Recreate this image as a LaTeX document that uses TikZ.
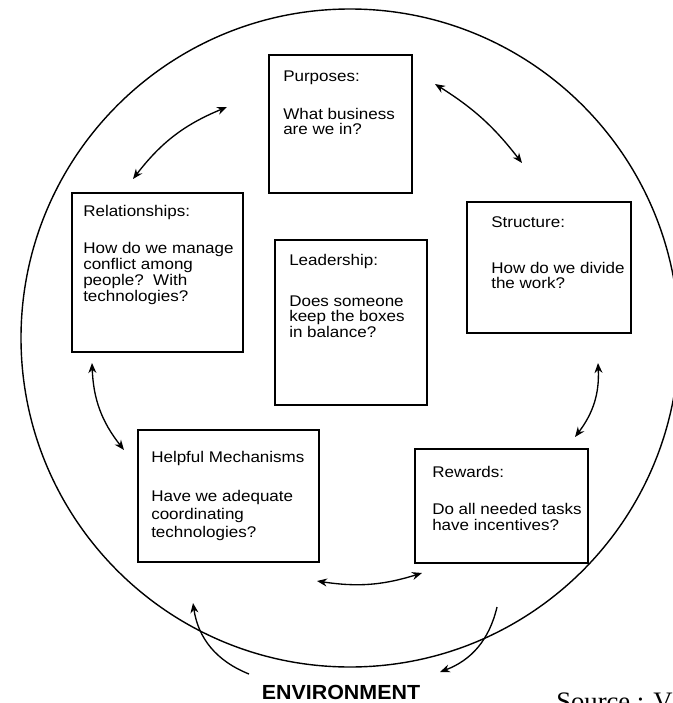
\documentclass[tikz,border=0pt]{standalone}
\usepackage{fontspec}
\setmainfont{Liberation Sans}
\newfontfamily\boxfont{Liberation Sans}[FakeStretch=1.1]
\newfontfamily\envfont{Liberation Sans}[FakeStretch=1.05]
\newfontfamily\srcfont{Liberation Serif}
\usetikzlibrary{arrows.meta,fit}

\begin{document}
\begin{tikzpicture}[x=0.75pt,y=-0.75pt,
  >={Stealth[length=7.5pt,width=6pt]},
  box/.style={draw, line width=0.9pt, inner sep=0pt},
  head/.style={anchor=base west, inner sep=0pt,
    font=\boxfont\fontsize{11.6pt}{12pt}\selectfont},
  body/.style={anchor=base west, inner sep=0pt,
    font=\boxfont\fontsize{11.6pt}{#1}\selectfont},
  link/.style={<->, line width=1pt},
  envlink/.style={->, line width=1pt}]
\useasboundingbox (0,0) rectangle (672,703);

% environment boundary
\node[circle, draw, line width=1.05pt, minimum size=493.5pt, inner sep=0pt] (env) at (350,338) {};

% the six boxes
\node[box, fit={(269,55) (412,193)}] (purp) {};
\node[head] (purpH) at (283,81) {Purposes:};
\node[body=11.25pt] (purpB) at (283,119)
  {\begin{tabular}[t]{@{}l@{}}What business\\are we in?\end{tabular}};

\node[box, fit={(72,193) (243,352)}] (rel) {};
\node[head] (relH) at (83,216) {Relationships:};
\node[body=12pt] (relB) at (83,253)
  {\begin{tabular}[t]{@{}l@{}}How do we manage\\conflict among\\people?\ \ With\\technologies?\end{tabular}};

\node[box, fit={(275,240) (427,405)}] (lead) {};
\node[head] (leadH) at (289,265) {Leadership:};
\node[body=11.6pt] (leadB) at (289,306)
  {\begin{tabular}[t]{@{}l@{}}Does someone\\keep the boxes\\in balance?\end{tabular}};

\node[box, fit={(467,202) (631,333)}] (struct) {};
\node[head] (structH) at (491,227) {Structure:};
\node[body=10.9pt] (structB) at (491,273)
  {\begin{tabular}[t]{@{}l@{}}How do we divide\\the work?\end{tabular}};

\node[box, fit={(415,449) (588,563)}] (rew) {};
\node[head] (rewH) at (432,477) {Rewards:};
\node[body=12.7pt] (rewB) at (432,514)
  {\begin{tabular}[t]{@{}l@{}}Do all needed tasks\\have incentives?\end{tabular}};

\node[box, fit={(138,430) (319,562)}] (help) {};
\node[head] (helpH) at (151,462) {Helpful Mechanisms};
\node[body=13.5pt] (helpB) at (151,501)
  {\begin{tabular}[t]{@{}l@{}}Have we adequate\\coordinating\\technologies?\end{tabular}};

% ends of the two-way links between neighbouring boxes
\coordinate (relPurpA) at (133,179);
\coordinate (relPurpB) at (227,107);
\coordinate (purpStructA) at (435,84);
\coordinate (purpStructB) at (522,163);
\coordinate (structRewA) at (598,363);
\coordinate (structRewB) at (575,437);
\coordinate (rewHelpA) at (422,573);
\coordinate (rewHelpB) at (317,581);
\coordinate (helpRelA) at (124,450);
\coordinate (helpRelB) at (92,363);

\draw[link] (relPurpA) to[bend left=15] (relPurpB);
\draw[link] (purpStructA) to[bend left=10] (purpStructB);
\draw[link] (structRewA) to[bend left=20] (structRewB);
\draw[link] (rewHelpA) to[bend left=13] (rewHelpB);
\draw[link] (helpRelA) to[bend left=18] (helpRelB);

% exchange with the environment
\coordinate (inStart) at (249,674);
\coordinate (inEnd) at (193,603);
\coordinate (outStart) at (497,607);
\coordinate (outEnd) at (440,672);
\draw[envlink] (inStart) to[bend left=30] (inEnd);
\draw[envlink] (outStart) to[bend left=28] (outEnd);

\node[anchor=base, inner sep=0pt, font=\envfont\bfseries\fontsize{15.3pt}{17pt}\selectfont] (envL) at (341,699) {ENVIRONMENT};

\node[anchor=base west, inner sep=0pt, font=\srcfont\fontsize{20pt}{22pt}\selectfont] (src) at (556,710) {Source : V};
\end{tikzpicture}
\end{document}
